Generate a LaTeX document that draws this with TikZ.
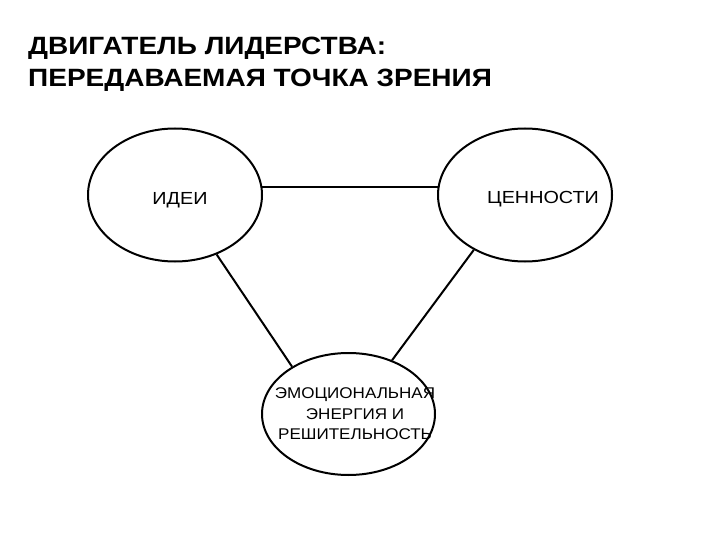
\documentclass[tikz,border=0pt]{standalone}
\usepackage{fontspec}
\setmainfont{Liberation Sans}
\usetikzlibrary{shapes.geometric}
\newcommand{\wide}[2]{\scalebox{#1}[1]{#2}}
\begin{document}
\begin{tikzpicture}[x=1pt,y=-1pt,
  oval/.style={ellipse,draw=black,line width=2pt,inner sep=0pt},
  conn/.style={draw=black,line width=2pt},
  titletext/.style={anchor=base west,inner sep=0pt,font=\fontsize{25}{30}\selectfont\bfseries},
  lbl/.style={inner sep=0pt,align=center}]
\useasboundingbox (0,0) rectangle (720,540);
\node[titletext] (t1) at (28,55) {\wide{1.12}{ДВИГАТЕЛЬ ЛИДЕРСТВА:}};
\node[titletext] (t2) at (28,87) {\wide{1.12}{ПЕРЕДАВАЕМАЯ ТОЧКА ЗРЕНИЯ}};
\node[oval,minimum width=174pt,minimum height=133pt] (idei) at (175,195) {};
\node[oval,minimum width=174pt,minimum height=133pt] (cen) at (525,195) {};
\node[oval,minimum width=173pt,minimum height=122pt] (emo) at (348.5,414) {};
\node[lbl,anchor=base,font=\fontsize{17.5}{20}\selectfont] (ideit) at (180,205) {\wide{1.13}{ИДЕИ}};
\node[lbl,anchor=base,font=\fontsize{17.5}{20}\selectfont] (cent) at (543,204) {\wide{1.13}{ЦЕННОСТИ}};
\node[lbl,font=\fontsize{15.5}{20.5}\selectfont] (emot) at (355,414) {\wide{1.1}{ЭМОЦИОНАЛЬНАЯ}\\\wide{1.1}{ЭНЕРГИЯ И}\\\wide{1.1}{РЕШИТЕЛЬНОСТЬ}};
\draw[conn] (idei.5) -- (cen.175);
\draw[conn] (idei.-55.6) -- (emo.140.3);
\draw[conn] (cen.-133) -- (emo.51.8);
\end{tikzpicture}
\end{document}
